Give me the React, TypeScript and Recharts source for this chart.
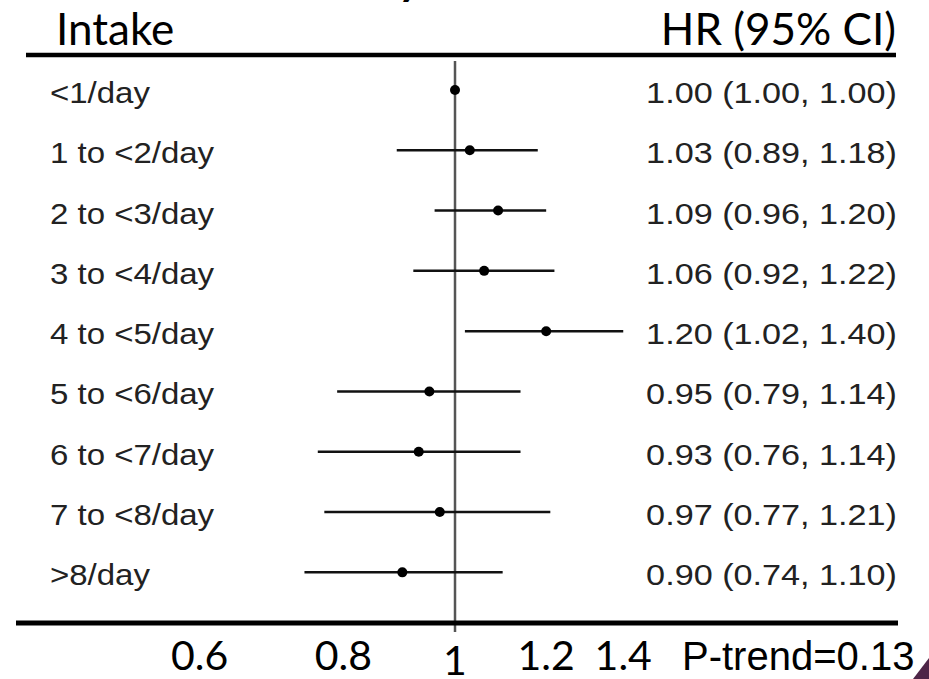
import React from "react";
import { ScatterChart, Scatter, XAxis, YAxis, ErrorBar, ReferenceLine } from "recharts";

const rowLabels = [
  "<1/day",
  "1 to <2/day",
  "2 to <3/day",
  "3 to <4/day",
  "4 to <5/day",
  "5 to <6/day",
  "6 to <7/day",
  "7 to <8/day",
  ">8/day",
];
const hrValues = [1.0, 1.03, 1.09, 1.06, 1.2, 0.95, 0.93, 0.97, 0.9];
const ciLower = [1.0, 0.89, 0.96, 0.92, 1.02, 0.79, 0.76, 0.77, 0.74];
const ciUpper = [1.0, 1.18, 1.2, 1.22, 1.4, 1.14, 1.14, 1.21, 1.1];
const xTicks = [0.6, 0.8, 1, 1.2, 1.4];
const rowTicks = rowLabels.map((_, i) => i);

const rows = rowLabels.map((label, i) => ({
  row: i,
  label,
  hr: hrValues[i],
  err: [hrValues[i] - ciLower[i], ciUpper[i] - hrValues[i]],
  text: `${hrValues[i].toFixed(2)} (${ciLower[i].toFixed(2)}, ${ciUpper[i].toFixed(2)})`,
}));

const arial = "'Liberation Sans', Arial, sans-serif";
const calibri = "Lato, 'Open Sans', sans-serif";

const RowTick = (props: any) => {
  const i = props.payload.value;
  const y = props.y + 13;
  return (
    <g>
      <g transform={`translate(50, ${y}) scale(1.1, 1)`}>
        <text x={0} y={0} fontFamily={arial} fontSize={30} fill="#222">
          {rowLabels[i]}
        </text>
      </g>
      <g transform={`translate(897, ${y}) scale(1.14, 1)`}>
        <text x={0} y={0} fontFamily={arial} fontSize={30} fill="#222" textAnchor="end">
          {rows[i].text}
        </text>
      </g>
    </g>
  );
};

const HrTick = (props: any) => {
  const v = props.payload.value;
  return (
    <text
      x={props.x}
      y={v === 1 ? 675 : 670}
      fontFamily={calibri}
      fontSize={41}
      fill="#000"
      textAnchor="middle"
    >
      {String(v)}
    </text>
  );
};

export default function App() {
  return (
    <div style={{ position: "absolute", left: 0, top: 0, width: 929, height: 679, background: "#fff" }}>
      <ScatterChart width={929} height={679} margin={{ top: 55, right: 31, bottom: 0, left: 0 }}>
        <XAxis
          type="number"
          dataKey="hr"
          scale="log"
          domain={[0.4156, 2.4254]}
          allowDataOverflow
          ticks={xTicks}
          height={56}
          tickLine={false}
          axisLine={{ stroke: "#000", strokeWidth: 5 }}
          tick={<HrTick />}
        />
        <YAxis
          type="number"
          dataKey="row"
          domain={[-0.58, 8.84]}
          reversed
          allowDataOverflow
          ticks={rowTicks}
          width={16}
          axisLine={false}
          tickLine={false}
          tick={<RowTick />}
        />
        <ReferenceLine
          segment={[
            { x: 1, y: -0.48 },
            { x: 1, y: 8.99 },
          ]}
          stroke="#555"
          strokeWidth={2.5}
          ifOverflow="visible"
        />
        <Scatter
          data={rows}
          isAnimationActive={false}
          shape={(p: any) => <circle cx={p.cx} cy={p.cy} r={5} fill="#000" />}
        >
          <ErrorBar
            dataKey="err"
            direction="x"
            width={0}
            stroke="#111"
            strokeWidth={2.5}
            isAnimationActive={false}
          />
        </Scatter>
      </ScatterChart>
      <svg
        width={929}
        height={679}
        style={{ position: "absolute", left: 0, top: 0, pointerEvents: "none" }}
      >
        <text x={398} y={-5} fontFamily={calibri} fontWeight="bold" fontSize={44} fill="#000">
          y
        </text>
        <text x={56} y={45} fontFamily={calibri} fontSize={44} fill="#000">
          Intake
        </text>
        <text x={896} y={45} fontFamily={calibri} fontSize={44} fill="#000" textAnchor="end">
          HR (95% CI)
        </text>
        <line x1={26} x2={896} y1={55} y2={55} stroke="#000" strokeWidth={4.5} />
        <text x={682} y={670} fontFamily={arial} fontSize={40} fill="#000">
          P-trend=0.13
        </text>
        <polygon points="929,658 929,679 913,679" fill="#4e2547" />
      </svg>
    </div>
  );
}
